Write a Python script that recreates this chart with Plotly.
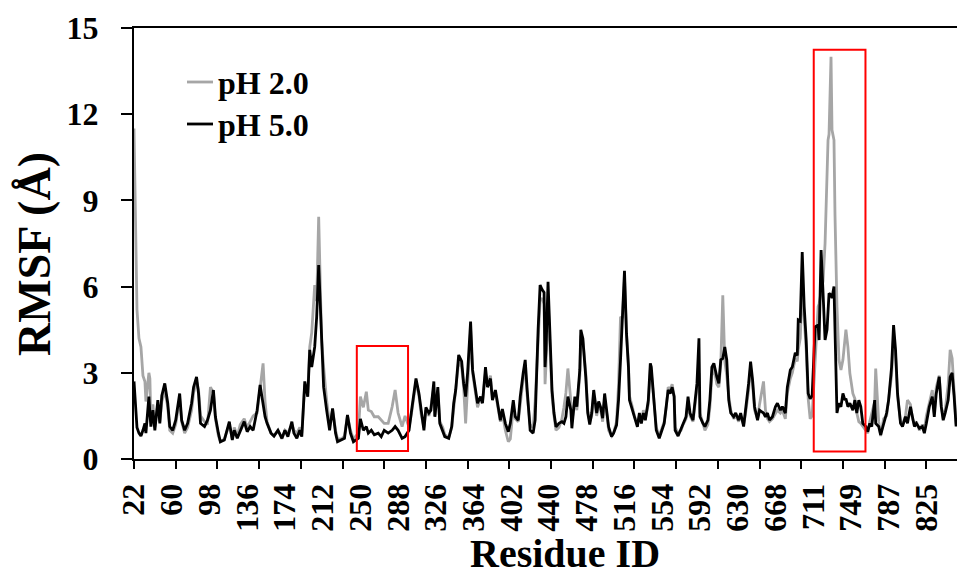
import plotly.graph_objects as go

# ---------------- data ----------------
# category position along the residue axis (0 = residue 22)
residue_pos = [
    0, 1, 2, 3, 5, 7, 9, 11, 12, 15, 16, 17, 19, 21, 24, 26, 28, 31, 34, 36,
    39, 42, 46, 48, 51, 54, 58, 60, 63, 65, 67, 71, 74, 77, 80, 82, 85, 87, 91, 94,
    96, 99, 101, 104, 107, 111, 114, 117, 120, 124, 127, 130, 132, 134, 138, 141, 145, 149, 152, 155,
    159, 161, 164, 167, 169, 172, 175, 177, 179, 182, 184, 186, 188, 189, 191, 194, 197, 200, 203, 205,
    209, 212, 215, 218, 221, 226, 228, 231, 234, 236, 239, 242, 246, 249, 252, 256, 260, 263, 266, 270,
    273, 277, 280, 284, 287, 289, 292, 294, 297, 299, 302, 303, 306, 308, 311, 313, 317, 320, 322, 324,
    327, 330, 332, 334, 336, 339, 341, 344, 346, 349, 351, 354, 356, 359, 361, 364, 367, 369, 371, 374,
    377, 379, 382, 384, 387, 389, 392, 394, 396, 399, 402, 404, 407, 409, 411, 413, 414, 415, 417, 419,
    421, 423, 425, 428, 431, 433, 435, 437, 440, 441, 444, 446, 449, 450, 452, 455, 457, 459, 461, 463,
    466, 468, 470, 472, 474, 476, 478, 481, 483, 486, 488, 490, 492, 494, 496, 498, 499, 502, 504, 507,
    509, 511, 513, 515, 518, 520, 521, 524, 526, 529, 531, 534, 536, 538, 540, 542, 544, 545, 548, 551,
    553, 556, 558, 560, 563, 564, 567, 569, 570, 573, 575, 578, 580, 582, 584, 587, 589, 591, 593, 595,
    597, 599, 601, 604, 606, 609, 611, 614, 616, 619, 621, 623, 625, 628, 630, 634, 636, 638, 640, 643,
    646, 648, 651, 653, 656, 658, 661, 663, 666, 668, 669, 671, 673, 675, 677, 679, 681, 683, 686, 689,
    690, 692, 694, 696, 698, 699, 700, 702, 703, 705, 706, 708, 710, 712, 714, 716, 717, 719, 721, 724,
    726, 728, 730, 732, 734, 737, 739, 741, 743, 746, 747, 750, 752, 755, 758, 760, 763, 765, 767, 769,
    772, 774, 777, 779, 782, 784, 786, 788, 791, 794, 796, 798, 801, 804, 806, 808, 811, 813, 815, 817,
    820, 822, 824, 826, 828,
]

rmsf_ph2 = [
    11.5, 9.2, 7.0, 5.2, 4.2, 3.9, 2.9, 2.7, 2.0, 3.0, 2.8, 1.3, 1.9, 1.1, 1.9, 1.3, 2.0, 2.4, 1.8, 1.0,
    0.9, 1.2, 2.1, 1.3, 0.9, 1.1, 1.7, 2.3, 2.7, 2.4, 1.5, 1.3, 1.2, 2.5, 2.3, 1.4, 0.8, 0.6, 0.7, 1.0,
    1.2, 0.7, 1.1, 0.8, 1.2, 1.4, 1.1, 1.3, 1.5, 1.6, 2.4, 3.33, 2.0, 1.3, 0.9, 0.8, 1.0, 0.7, 1.0, 0.9,
    1.2, 1.0, 0.9, 1.1, 0.9, 2.6, 2.3, 3.9, 4.4, 6.05, 5.5, 8.43, 5.5, 4.1, 3.2, 2.05, 1.2, 1.7, 1.0, 0.7,
    0.7, 0.8, 1.5, 1.0, 0.7, 0.9, 2.17, 1.8, 2.34, 1.7, 1.65, 1.47, 1.47, 1.35, 1.24, 1.24, 1.82, 2.4, 1.6, 1.13,
    1.5, 1.1, 1.7, 2.7, 2.2, 1.6, 1.1, 1.7, 1.5, 1.8, 2.5, 1.5, 2.3, 1.3, 1.1, 0.85, 0.75, 1.1, 1.8, 2.3,
    3.4, 3.2, 2.5, 1.24, 2.6, 4.5, 3.0, 2.3, 1.8, 2.1, 2.0, 3.0, 2.6, 2.9, 2.2, 2.3, 1.6, 1.3, 1.6, 1.0,
    0.6, 0.7, 1.8, 1.4, 1.3, 2.0, 2.8, 3.2, 2.2, 1.2, 1.1, 2.0, 4.4, 5.5, 5.6, 5.4, 2.6, 3.3, 5.5, 4.0,
    2.2, 1.5, 1.0, 1.1, 1.4, 1.8, 2.3, 3.15, 2.0, 1.3, 2.0, 1.7, 2.9, 4.3, 4.2, 3.0, 1.7, 1.3, 1.5, 2.2,
    1.5, 1.9, 1.7, 1.3, 2.1, 1.6, 1.0, 0.8, 0.9, 1.3, 2.6, 4.95, 4.9, 6.3, 4.4, 3.3, 2.2, 1.8, 1.5, 1.2,
    1.5, 1.3, 1.7, 1.4, 1.9, 3.1, 3.0, 1.9, 1.1, 0.8, 1.0, 1.3, 1.8, 2.5, 2.4, 2.6, 2.2, 1.1, 0.9, 1.0,
    1.2, 1.4, 2.0, 1.5, 1.3, 1.6, 2.5, 3.0, 1.6, 1.2, 1.0, 1.2, 1.8, 2.9, 3.2, 2.6, 2.5, 3.3, 5.7, 3.4,
    2.9, 2.2, 1.7, 1.4, 1.5, 1.3, 1.5, 1.2, 1.6, 2.4, 3.2, 2.6, 1.7, 1.4, 1.9, 2.7, 1.7, 1.4, 1.3, 1.4,
    1.6, 1.7, 1.6, 1.7, 1.4, 2.3, 2.8, 3.0, 3.5, 3.4, 3.8, 4.2, 6.0, 5.0, 3.8, 2.1, 1.4, 1.5, 3.5, 5.3,
    5.4, 5.8, 6.2, 7.5, 9.5, 11.1, 11.3, 14.0, 11.45, 11.1, 8.5, 5.3, 3.45, 3.1, 3.45, 4.2, 4.5, 3.9, 2.98, 2.28,
    2.1, 1.6, 1.3, 1.24, 1.13, 1.0, 0.9, 1.3, 1.6, 2.0, 3.15, 1.3, 0.8, 1.4, 1.5, 2.0, 2.9, 4.3, 3.6, 2.2,
    1.3, 1.2, 1.5, 2.05, 1.9, 1.4, 1.2, 1.3, 1.0, 1.2, 1.0, 1.5, 2.0, 2.4, 1.6, 2.5, 2.9, 1.9, 1.4, 1.7,
    2.6, 3.8, 3.5, 2.5, 1.2,
]

rmsf_ph5 = [
    2.7, 2.0, 1.3, 1.1, 0.9, 0.8, 1.0, 1.24, 0.9, 2.17, 1.6, 1.13, 1.7, 1.0, 2.05, 1.24, 2.2, 2.63, 1.94, 1.13,
    1.0, 1.35, 2.28, 1.35, 1.0, 1.24, 1.94, 2.5, 2.86, 2.28, 1.24, 1.13, 1.35, 1.7, 2.4, 1.47, 0.9, 0.6, 0.66, 1.0,
    1.3, 0.66, 1.0, 0.72, 1.0, 1.3, 0.95, 1.13, 1.0, 1.7, 2.58, 1.94, 1.47, 1.24, 0.9, 0.8, 1.0, 0.72, 1.0, 0.78,
    1.3, 0.9, 0.72, 1.0, 0.78, 2.7, 2.17, 3.8, 3.2, 3.9, 4.95, 6.75, 5.0, 4.0, 2.5, 1.7, 1.0, 1.76, 0.9, 0.6,
    0.66, 0.72, 1.53, 0.9, 0.6, 0.72, 1.4, 1.0, 1.13, 0.9, 1.0, 0.84, 0.9, 0.78, 1.0, 0.9, 1.0, 1.13, 1.0, 0.72,
    0.78, 1.0, 1.8, 2.8, 2.28, 1.7, 1.0, 1.8, 1.6, 1.7, 2.7, 1.47, 2.5, 1.24, 1.0, 0.78, 0.72, 1.13, 1.94, 2.4,
    3.62, 3.4, 2.63, 2.17, 3.0, 4.78, 3.1, 2.4, 1.94, 2.17, 1.94, 3.2, 2.5, 2.8, 2.05, 2.4, 1.7, 1.35, 1.74, 1.24,
    0.95, 1.24, 2.05, 1.47, 1.35, 2.17, 3.0, 3.45, 2.4, 1.0, 0.9, 1.35, 4.5, 6.05, 5.9, 5.8, 3.2, 3.8, 6.17, 4.37,
    2.4, 1.6, 1.12, 1.24, 1.3, 1.24, 1.47, 2.17, 1.7, 1.07, 2.17, 1.82, 3.1, 4.5, 4.2, 2.86, 1.6, 1.2, 1.6, 2.4,
    1.6, 2.0, 1.8, 1.42, 2.28, 1.7, 1.12, 0.78, 0.9, 1.18, 2.05, 3.45, 4.95, 6.55, 4.37, 3.2, 2.05, 1.7, 1.47, 1.12,
    1.6, 1.24, 1.6, 1.35, 2.05, 3.33, 3.2, 1.94, 1.0, 0.72, 0.95, 1.24, 1.82, 2.4, 2.28, 2.5, 2.17, 1.0, 0.8, 1.07,
    1.24, 1.47, 2.17, 1.6, 1.35, 1.7, 2.63, 4.2, 1.47, 1.24, 1.13, 1.35, 2.05, 3.2, 3.33, 2.86, 2.63, 3.45, 3.5, 3.9,
    3.45, 2.05, 1.6, 1.47, 1.6, 1.35, 1.6, 1.13, 1.7, 2.63, 3.39, 2.75, 1.82, 1.35, 1.7, 1.6, 1.47, 1.6, 1.35, 1.47,
    1.82, 1.94, 1.7, 1.82, 1.6, 2.5, 3.1, 3.2, 3.7, 3.6, 4.84, 4.8, 7.2, 5.3, 4.14, 2.28, 2.1, 2.2, 4.6, 4.66,
    4.14, 7.27, 5.77, 4.14, 4.5, 5.0, 5.77, 5.7, 5.6, 6.0, 4.7, 1.6, 1.94, 1.82, 2.28, 2.05, 2.1, 1.82, 1.94, 1.7,
    2.05, 1.6, 2.05, 1.82, 1.24, 1.13, 0.95, 1.24, 1.13, 2.05, 1.24, 1.13, 0.84, 1.24, 1.6, 2.05, 3.2, 4.66, 3.8, 2.28,
    1.24, 1.13, 1.47, 1.24, 1.82, 1.47, 1.13, 1.24, 1.07, 1.13, 0.9, 1.24, 1.82, 2.17, 1.47, 2.28, 2.86, 1.82, 1.35, 1.6,
    2.05, 2.86, 3.0, 2.17, 1.13,
]

series_names = ["pH 2.0", "pH 5.0"]
series_colors = ["#A6A6A6", "#000000"]

tick_labels = ["22", "60", "98", "136", "174", "212", "250", "288", "326", "364", "402",
               "440", "478", "516", "554", "592", "630", "668", "711", "749", "787", "825"]
label_step = 38
tick_mark_step = 42

# highlighted regions (position range, RMSF range)
box_x = [(224.4, 276.0), (684.6, 736.7)]
box_y = [(0.28, 3.93), (0.26, 14.24)]

# ---------------- layout helpers ----------------
W, H = 957, 575
PL, PR, PT, PB = 134, 957, 28, 459
XMAX = (PR - PL) / 0.9929

def px(x):
    return (x - PL) / (PR - PL)

def py(y):
    return (PB - y) / (PB - PT)

FONT = "Liberation Serif, 'Times New Roman', serif"

fig = go.Figure()
for vals, name, col in zip([rmsf_ph2, rmsf_ph5], series_names, series_colors):
    fig.add_trace(go.Scatter(x=residue_pos, y=vals, mode="lines", name=name,
                             line=dict(color=col, width=2.8), showlegend=False,
                             hoverinfo="skip"))

# invisible trace so the tick-mark axis is drawn
fig.add_trace(go.Scatter(x=[0], y=[0], xaxis="x2", mode="markers",
                         marker=dict(opacity=0), showlegend=False, hoverinfo="skip"))

label_vals = [i * label_step for i in range(len(tick_labels))]
mark_vals = list(range(0, int(XMAX) + 1, tick_mark_step))

fig.update_layout(
    width=W, height=H,
    margin=dict(l=PL, r=W - PR, t=PT, b=H - PB, pad=0),
    paper_bgcolor="white", plot_bgcolor="white",
    showlegend=False,
    xaxis=dict(range=[0, XMAX], tickmode="array", tickvals=label_vals, ticktext=tick_labels,
               tickangle=-90, ticks="", showline=True, linecolor="black", linewidth=2,
               mirror=True, showgrid=False, zeroline=False, ticklabelstandoff=10,
               tickfont=dict(family=FONT, size=32, color="black", weight="bold")),
    xaxis2=dict(range=[0, XMAX], overlaying="x", anchor="y", side="bottom",
                tickmode="array", tickvals=mark_vals, ticks="outside", ticklen=9,
                tickwidth=2, tickcolor="black", showticklabels=False, showline=False,
                showgrid=False, zeroline=False),
    yaxis=dict(range=[0, 15], tickmode="array", tickvals=[0, 3, 6, 9, 12, 15],
               ticks="outside", ticklen=11, tickwidth=2, tickcolor="black",
               showline=True, linecolor="black", linewidth=2, showgrid=False,
               zeroline=False, ticklabelstandoff=16,
               tickfont=dict(family=FONT, size=32, color="black", weight="bold")),
)

for (x0, x1), (y0, y1) in zip(box_x, box_y):
    fig.add_shape(type="rect", xref="x", yref="y", x0=x0, x1=x1, y0=y0, y1=y1,
                  line=dict(color="#FF0000", width=2), fillcolor="rgba(0,0,0,0)")

# legend drawn by hand
legend_rows_y = [82, 124]
for name, col, yy in zip(series_names, series_colors, legend_rows_y):
    fig.add_shape(type="line", xref="paper", yref="paper", x0=px(187), x1=px(213),
                  y0=py(yy), y1=py(yy), line=dict(color=col, width=2.8))
    fig.add_annotation(xref="paper", yref="paper", x=px(216), y=py(yy + 1),
                       xanchor="left", yanchor="middle", showarrow=False,
                       text="<b>" + name + "</b>",
                       font=dict(family=FONT, size=32, color="black"))

fig.add_annotation(xref="paper", yref="paper", x=px(565), y=py(553),
                   xanchor="center", yanchor="middle", showarrow=False,
                   text="<b>Residue ID</b>", font=dict(family=FONT, size=40, color="black"))
fig.add_annotation(xref="paper", yref="paper", x=px(34), y=py(254),
                   xanchor="center", yanchor="middle", showarrow=False, textangle=-90,
                   text="<b>RMSF (Å)</b>", font=dict(family=FONT, size=46, color="black"))

fig.write_html("out.html", config={"displayModeBar": False},
               post_script="document.body.style.margin='0';document.body.style.overflow='hidden';")
